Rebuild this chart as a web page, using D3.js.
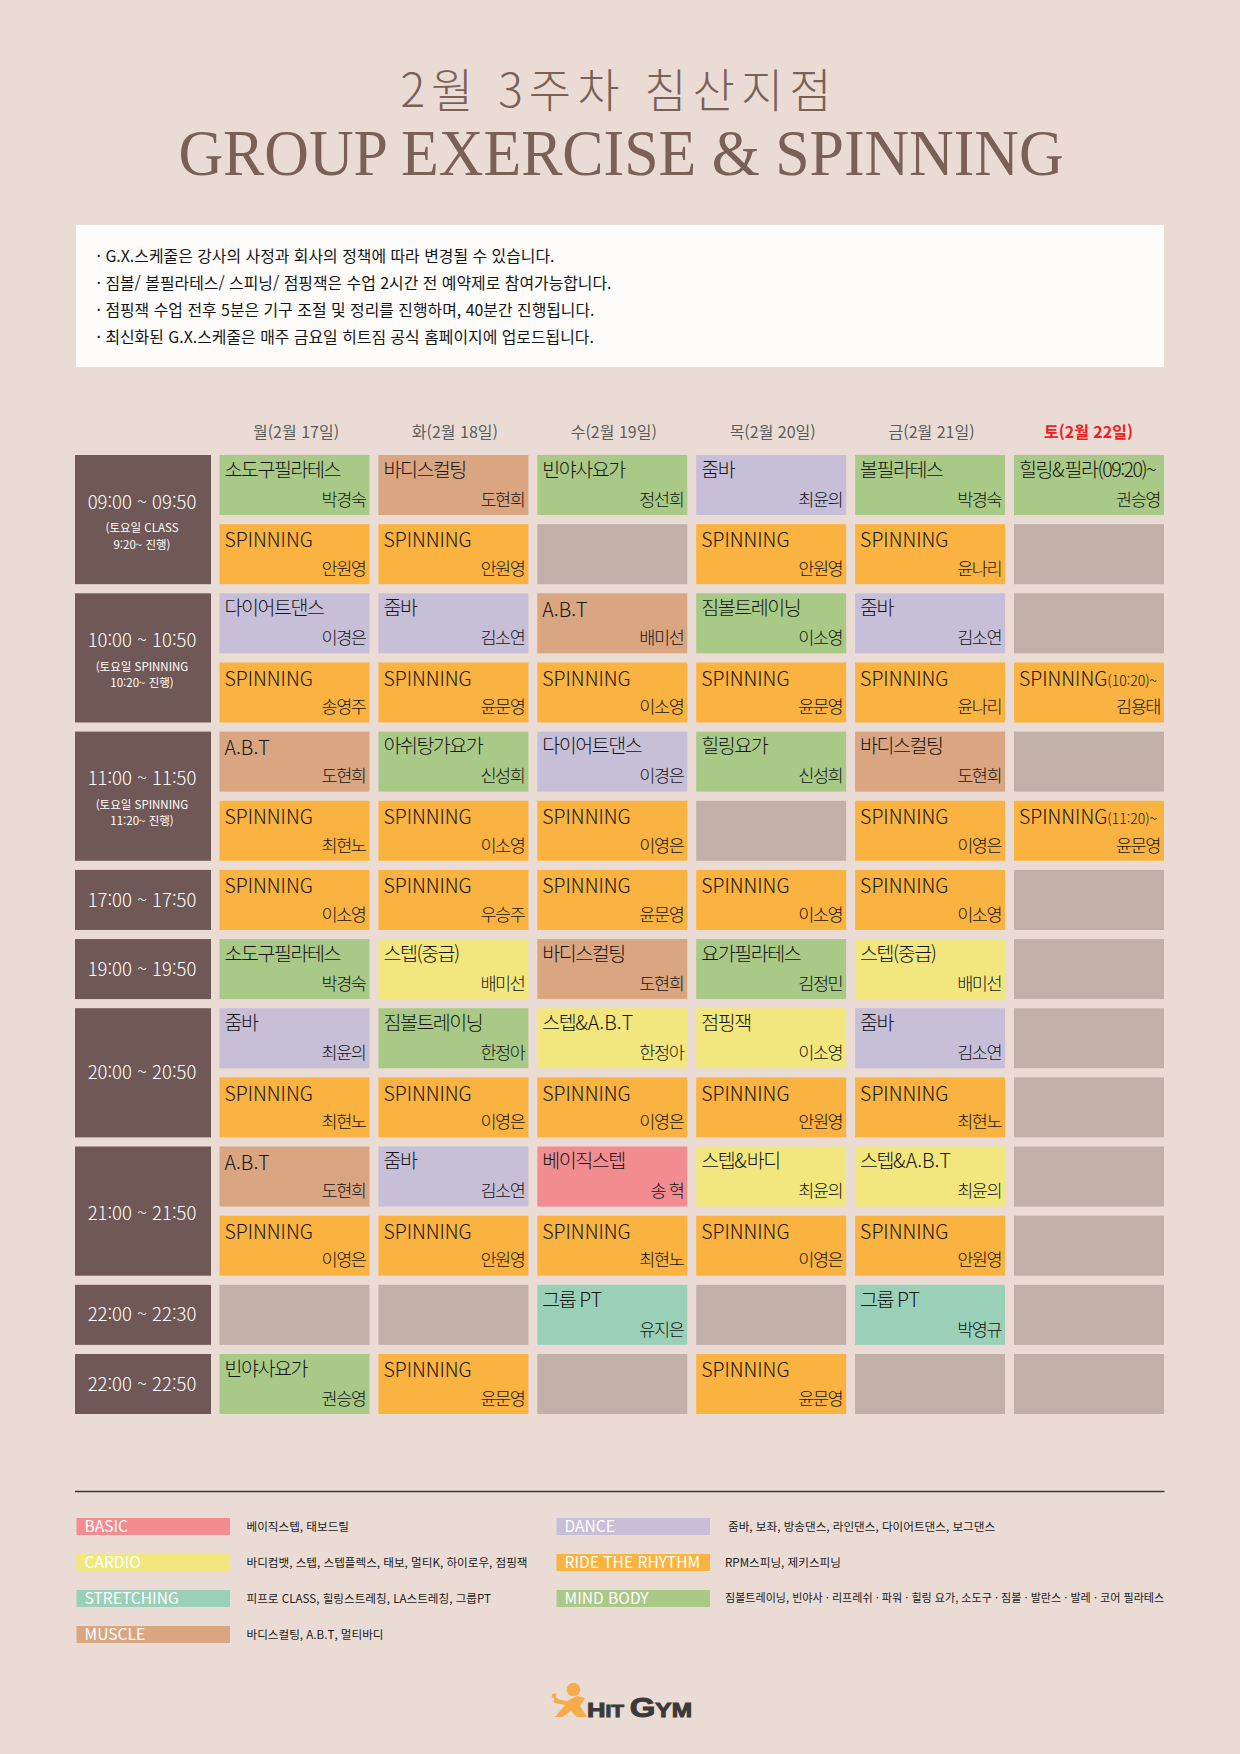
<!DOCTYPE html>
<html lang="ko">
<head>
<meta charset="utf-8">
<script src="https://cdn.jsdelivr.net/npm/d3@7"></script>
<style>
html,body{margin:0;padding:0;background:#eadcd5}
svg{display:block}
text{font-family:"Noto Sans CJK KR","Noto Sans",sans-serif}
</style>
</head>
<body>
<svg id="chart" width="1240" height="1754"></svg>
<script>
const titleKo = "2월 3주차 침산지점";
const titleEn = "GROUP EXERCISE & SPINNING";
const notes = [
  "· G.X.스케줄은 강사의 사정과 회사의 정책에 따라 변경될 수 있습니다.",
  "· 짐볼/ 볼필라테스/ 스피닝/ 점핑잭은 수업 2시간 전 예약제로 참여가능합니다.",
  "· 점핑잭 수업 전후 5분은 기구 조절 및 정리를 진행하며, 40분간 진행됩니다.",
  "· 최신화된 G.X.스케줄은 매주 금요일 히트짐 공식 홈페이지에 업로드됩니다."
];
const days = ["월(2월 17일)","화(2월 18일)","수(2월 19일)","목(2월 20일)","금(2월 21일)","토(2월 22일)"];
const slots = [
  {label:"09:00 ~ 09:50", rows:2, sub:["(토요일 CLASS","9:20~ 진행)"]},
  {label:"10:00 ~ 10:50", rows:2, sub:["(토요일 SPINNING","10:20~ 진행)"]},
  {label:"11:00 ~ 11:50", rows:2, sub:["(토요일 SPINNING","11:20~ 진행)"]},
  {label:"17:00 ~ 17:50", rows:1, sub:[]},
  {label:"19:00 ~ 19:50", rows:1, sub:[]},
  {label:"20:00 ~ 20:50", rows:2, sub:[]},
  {label:"21:00 ~ 21:50", rows:2, sub:[]},
  {label:"22:00 ~ 22:30", rows:1, sub:[]},
  {label:"22:00 ~ 22:50", rows:1, sub:[]}
];
const S = "SPINNING";
const classTitles = [
  ["소도구필라테스","바디스컬팅","빈야사요가","줌바","볼필라테스","힐링&필라(09:20)~"],
  [S,S,"",S,S,""],
  ["다이어트댄스","줌바","A.B.T","짐볼트레이닝","줌바",""],
  [S,S,S,S,S,"SPINNING(10:20)~"],
  ["A.B.T","아쉬탕가요가","다이어트댄스","힐링요가","바디스컬팅",""],
  [S,S,S,"",S,"SPINNING(11:20)~"],
  [S,S,S,S,S,""],
  ["소도구필라테스","스텝(중급)","바디스컬팅","요가필라테스","스텝(중급)",""],
  ["줌바","짐볼트레이닝","스텝&A.B.T","점핑잭","줌바",""],
  [S,S,S,S,S,""],
  ["A.B.T","줌바","베이직스텝","스텝&바디","스텝&A.B.T",""],
  [S,S,S,S,S,""],
  ["","","그룹 PT","","그룹 PT",""],
  ["빈야사요가",S,"",S,"",""]
];
const classTeachers = [
  ["박경숙","도현희","정선희","최윤의","박경숙","권승영"],
  ["안원영","안원영","","안원영","윤나리",""],
  ["이경은","김소연","배미선","이소영","김소연",""],
  ["송영주","윤문영","이소영","윤문영","윤나리","김용태"],
  ["도현희","신성희","이경은","신성희","도현희",""],
  ["최현노","이소영","이영은","","이영은","윤문영"],
  ["이소영","우승주","윤문영","이소영","이소영",""],
  ["박경숙","배미선","도현희","김정민","배미선",""],
  ["최윤의","한정아","한정아","이소영","김소연",""],
  ["최현노","이영은","이영은","안원영","최현노",""],
  ["도현희","김소연","송 혁","최윤의","최윤의",""],
  ["이영은","안원영","최현노","이영은","안원영",""],
  ["","","유지은","","박영규",""],
  ["권승영","윤문영","","윤문영","",""]
];
const classTypes = [
  ["MIND BODY","MUSCLE","MIND BODY","DANCE","MIND BODY","MIND BODY"],
  ["RIDE THE RHYTHM","RIDE THE RHYTHM","","RIDE THE RHYTHM","RIDE THE RHYTHM",""],
  ["DANCE","DANCE","MUSCLE","MIND BODY","DANCE",""],
  ["RIDE THE RHYTHM","RIDE THE RHYTHM","RIDE THE RHYTHM","RIDE THE RHYTHM","RIDE THE RHYTHM","RIDE THE RHYTHM"],
  ["MUSCLE","MIND BODY","DANCE","MIND BODY","MUSCLE",""],
  ["RIDE THE RHYTHM","RIDE THE RHYTHM","RIDE THE RHYTHM","","RIDE THE RHYTHM","RIDE THE RHYTHM"],
  ["RIDE THE RHYTHM","RIDE THE RHYTHM","RIDE THE RHYTHM","RIDE THE RHYTHM","RIDE THE RHYTHM",""],
  ["MIND BODY","CARDIO","MUSCLE","MIND BODY","CARDIO",""],
  ["DANCE","MIND BODY","CARDIO","CARDIO","DANCE",""],
  ["RIDE THE RHYTHM","RIDE THE RHYTHM","RIDE THE RHYTHM","RIDE THE RHYTHM","RIDE THE RHYTHM",""],
  ["MUSCLE","DANCE","BASIC","CARDIO","CARDIO",""],
  ["RIDE THE RHYTHM","RIDE THE RHYTHM","RIDE THE RHYTHM","RIDE THE RHYTHM","RIDE THE RHYTHM",""],
  ["","","STRETCHING","","STRETCHING",""],
  ["MIND BODY","RIDE THE RHYTHM","","RIDE THE RHYTHM","",""]
];
const legendLeft = [
  ["BASIC","베이직스텝, 태보드릴"],
  ["CARDIO","바디컴뱃, 스텝, 스텝플렉스, 태보, 멀티K, 하이로우, 점핑잭"],
  ["STRETCHING","피프로 CLASS, 힐링스트레칭, LA스트레칭, 그룹PT"],
  ["MUSCLE","바디스컬팅, A.B.T, 멀티바디"]
];
const legendRight = [
  ["DANCE","줌바, 보좌, 방송댄스, 라인댄스, 다이어트댄스, 보그댄스"],
  ["RIDE THE RHYTHM","RPM스피닝, 제키스피닝"],
  ["MIND BODY","짐볼트레이닝, 빈야사 · 리프레쉬 · 파워 · 힐링 요가, 소도구 · 짐볼 · 발란스 · 발레 · 코어 필라테스"]
];
const typeColor = d3.scaleOrdinal()
  .domain(["BASIC","CARDIO","STRETCHING","MUSCLE","DANCE","RIDE THE RHYTHM","MIND BODY",""])
  .range(["#f38c91","#f2e77f","#9bd0b8","#d9a681","#c7bfd8","#fab340","#a9c987","#c1b0a8"]);

const svg = d3.select("#chart");
const BG = "#eadcd5", BROWN = "#6f5856", TITLE = "#7a6158", INK = "#141414";
svg.append("rect").attr("width",1240).attr("height",1754).attr("fill",BG);

// titles
svg.append("text").attr("x",616).attr("y",106.5).attr("text-anchor","middle")
  .attr("font-size",46).attr("font-weight",300).attr("fill",TITLE)
  .attr("textLength",431).attr("lengthAdjust","spacing").text(titleKo);
svg.append("text").attr("x",621).attr("y",174.5).attr("text-anchor","middle")
  .style("font-family","'Liberation Serif',serif")
  .attr("font-size",66).attr("fill",TITLE)
  .attr("textLength",885).attr("lengthAdjust","spacingAndGlyphs").text(titleEn);

// notes
svg.append("rect").attr("x",76).attr("y",225).attr("width",1088).attr("height",142).attr("fill","#fdfcfa");
const noteY = d3.scalePoint().domain(d3.range(notes.length)).range([256.5,337.5]);
svg.append("g").selectAll("text").data(notes).join("text")
  .attr("x",96.5).attr("y",(d,i)=>noteY(i)).attr("dy","0.36em")
  .attr("font-size",15.9).attr("fill",INK).text(d=>d);

// grid scales
const rowIdx = d3.range(classTitles.length);
const x = d3.scaleBand().domain(d3.range(days.length)).range([219.5,1164]).paddingInner(0.056);
const y = d3.scaleBand().domain(rowIdx).range([455,1414]).paddingInner(0.132);

// headers
svg.append("g").selectAll("text").data(days).join("text")
  .attr("x",(d,i)=>x(i)+x.bandwidth()/2+1.5-(i===5?2:0)).attr("y",432).attr("dy","0.36em")
  .attr("text-anchor","middle").attr("font-size",16)
  .attr("font-weight",(d,i)=>i===5?700:400)
  .attr("fill",(d,i)=>i===5?"#ed2024":"#5c5c5c").text(d=>d);

// time blocks
let r0 = 0;
const blocks = slots.map(s => { const b = {...s, start:r0}; r0 += s.rows; return b; });
const tg = svg.append("g").selectAll("g").data(blocks).join("g");
tg.append("rect").attr("x",75).attr("width",136)
  .attr("y",d=>y(d.start))
  .attr("height",d=>y(d.start+d.rows-1)+y.bandwidth()-y(d.start))
  .attr("fill",BROWN);
const blockCy = d => (y(d.start)+y(d.start+d.rows-1)+y.bandwidth())/2;
tg.append("text").attr("x",142).attr("y",d=>blockCy(d)-(d.sub.length?17.5:0)+(d.label.startsWith("21")?2.5:0)).attr("dy","0.36em")
  .attr("text-anchor","middle").attr("font-size",18.5).attr("font-weight",300).attr("fill","#fff").text(d=>d.label);
tg.each(function(d){
  d3.select(this).selectAll("text.sub").data(d.sub).join("text").attr("class","sub")
    .attr("x",142).attr("y",(s,i)=>blockCy(d)+8.5+i*16.5).attr("dy","0.36em")
    .attr("text-anchor","middle").attr("font-size",11.5).attr("fill","#fff").text(s=>s);
});

// cells
const cells = rowIdx.flatMap(r => d3.range(days.length).map(c => ({
  r, c, title:classTitles[r][c], teacher:classTeachers[r][c], type:classTypes[r][c]
})));
const cg = svg.append("g").selectAll("g").data(cells).join("g")
  .attr("transform",d=>`translate(${x(d.c)},${y(d.r)})`);
cg.append("rect").attr("width",x.bandwidth()).attr("height",y.bandwidth()).attr("fill",d=>typeColor(d.type));
const isLatin = t => /^[A-Za-z.&]+$/.test(t);
const titleText = cg.filter(d=>d.title).append("text").attr("x",5).attr("y",16).attr("dy","0.36em")
  .attr("font-weight",300).attr("fill",INK);
titleText.each(function(d){
  const runs = d.title.match(/\(\d.*$|[A-Za-z.&]+|[^A-Za-z.&]+/g);
  d3.select(this).selectAll("tspan").data(runs).join("tspan")
    .attr("font-size",t=>/^\(\d/.test(t)?14:19.5)
    .attr("letter-spacing",t=>/^\(\d/.test(t)||isLatin(t)?0:-1.45)
    .text(t=>t);
});
// Latin-only titles sit slightly lower in the reference
titleText.filter(d=>/^[A-Z]/.test(d.title)).attr("y",17.5);
cg.filter(d=>d.teacher).append("text").attr("x",x.bandwidth()-4).attr("y",44.5).attr("dy","0.36em")
  .attr("text-anchor","end").attr("font-size",17.5).attr("letter-spacing",-1.45).attr("font-weight",300).attr("fill",INK).text(d=>d.teacher);

// legend rule
svg.append("line").attr("x1",75).attr("x2",1164.5).attr("y1",1491.5).attr("y2",1491.5)
  .attr("stroke","#3a3a3a").attr("stroke-width",1.3);
const legY = d3.scalePoint().domain(d3.range(4)).range([1518,1626]);
function legend(items, sx, tx){
  const g = svg.append("g").selectAll("g").data(items).join("g");
  g.append("rect").attr("x",sx).attr("y",(d,i)=>legY(i)).attr("width",153.5).attr("height",17)
    .attr("fill",d=>typeColor(d[0]));
  g.append("text").attr("x",sx+8).attr("y",(d,i)=>legY(i)+8.5).attr("dy","0.36em")
    .attr("font-size",15.6).attr("fill","#fff").text(d=>d[0]);
  g.append("text").attr("x",(d,i)=>tx+(d[0]==="DANCE"?3:0)).attr("y",(d,i)=>legY(i)+8.5).attr("dy","0.36em")
    .attr("font-size",d=>d[0]==="MIND BODY"?11.05:11.6).attr("fill","#1a1a1a").text(d=>d[1]);
}
legend(legendLeft,76.5,246.5);
legend(legendRight,556.5,725);

// logo
const logo = svg.append("g");
logo.append("circle").attr("cx",573.5).attr("cy",1689.5).attr("r",6.8).attr("fill","#f7ab4a");
logo.append("path").attr("fill","#f7ab4a")
  .attr("d","M556 1699 L567 1701 L577 1696 L585 1698 L580 1706 L587 1717 L577 1717 L571 1711 L562 1717 L555 1717 L565 1705 L555 1703 Z");
logo.append("path").attr("stroke","#f7ab4a").attr("stroke-width",2.6).attr("fill","none").attr("d","M553 1694 L556 1700 M552 1697 L556 1694 M554 1702 L558 1699");
const lt = logo.append("text").attr("x",587).attr("y",1716.5).attr("fill","#3a3a3a")
  .style("font-family","'Liberation Sans',sans-serif").attr("font-weight",700).attr("stroke","#3a3a3a").attr("stroke-width",1)
  .attr("textLength",105).attr("lengthAdjust","spacingAndGlyphs");
lt.selectAll("tspan").data([["H",21],["IT ",17],["G",27],["YM",20]]).join("tspan")
  .attr("font-size",d=>d[1]).text(d=>d[0]);
</script>
</body>
</html>
